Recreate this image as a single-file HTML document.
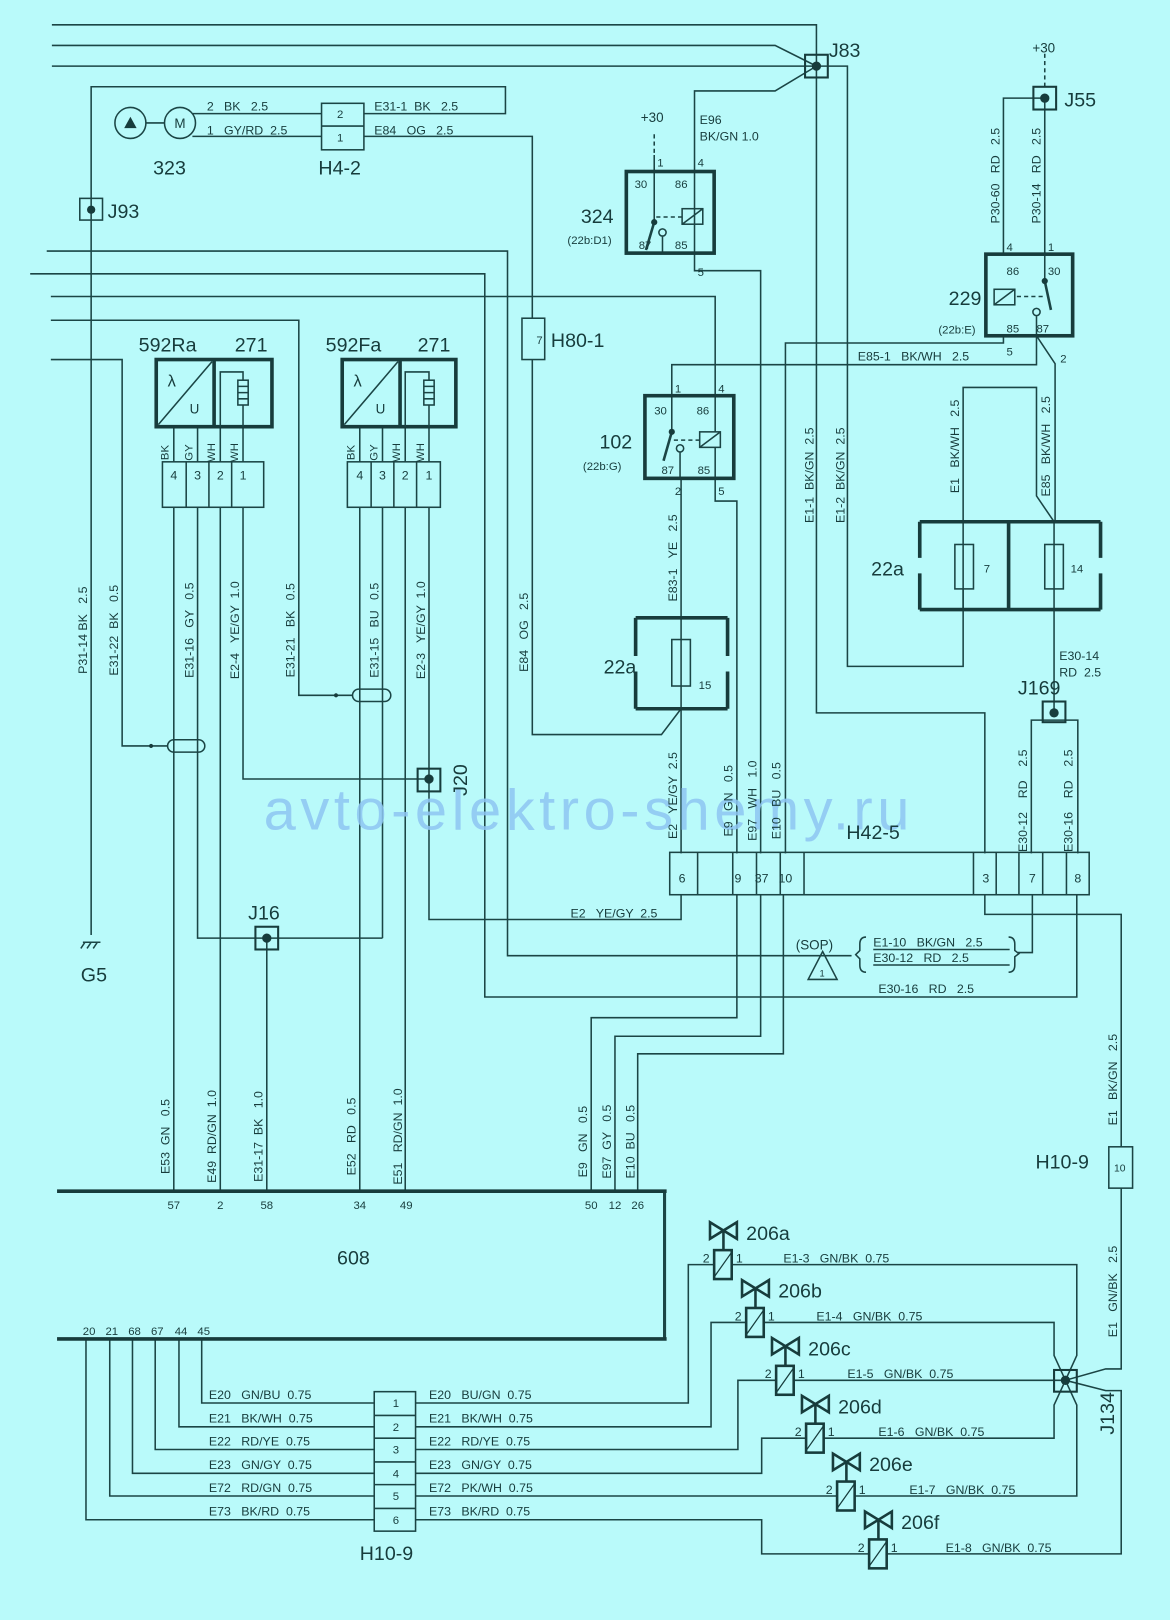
<!DOCTYPE html>
<html><head><meta charset="utf-8"><style>
html,body{margin:0;padding:0;background:#b9fafa;}
svg{display:block;}
text{font-family:"Liberation Sans",sans-serif;fill:#173c3c;white-space:pre;}
</style></head><body>
<svg width="1170" height="1620" viewBox="0 0 1132 1568" xmlns="http://www.w3.org/2000/svg" xml:space="preserve">
<rect width="1132" height="1568" fill="#b9fafa"/>
<g fill="none" stroke="#1b4545" stroke-width="1.5">
<path d="M50 24H790V690H953V826"/>
<path d="M50 44H750L790 64"/>
<path d="M50 64H790"/>
<path d="M790 64L750 88H672V166"/>
<path d="M790 64H820V645H932V570"/>
<circle cx="126" cy="119" r="15"/><circle cx="174" cy="119" r="15"/>
<path d="M141 119H159"/>
<path d="M186 110H311M186 132H311"/>
<rect x="311" y="100" width="41" height="45"/><path d="M311 122H352"/>
<path d="M352 110H489V84H88V905"/>
<path d="M352 132H515V308M515 348V711H640L659 686"/>
<rect x="505" y="308" width="22" height="40"/>
<rect x="77" y="192" width="22" height="21"/>
<path d="M45 243H491V925H824"/>
<path d="M29 265H469V965H1042V866"/>
<path d="M49 287H692V383"/>
<path d="M49 310H289V673H325"/>
<path d="M49 348H118V722H146"/>
<rect x="341" y="667" width="37" height="12" rx="6"/>
<rect x="162" y="716" width="36" height="12" rx="6"/>
<path d="M325 673H341M146 722H162"/>
<path d="M80 912H97M82 912L78 918M88 912L84 918M94 912L90 918"/>
<path d="M168 413V447M191 413V447M213 413V447M235 413V447"/>
<path d="M168 491V1153M191 491V908H370M213 491V1153M235 491V754H415"/>
<path d="M258 908V1153"/>
<path d="M348 413V447M370 413V447M392 413V447M415 413V447"/>
<path d="M348 491V1153M370 491V908M392 491V1153M415 491V890H659V866"/>
<rect x="157" y="447" width="98" height="44"/>
<path d="M180 447V491M202 447V491M224 447V491"/>
<rect x="336" y="447" width="90" height="44"/>
<path d="M359 447V491M381 447V491M403 447V491"/>
<path d="M633 130V150" stroke-dasharray="4,3"/>
<path d="M633 150V215M672 166V262H736V826"/>
<path d="M641 229V245"/>
<circle cx="641" cy="225" r="3.5"/>
<path d="M633 215L625 242" stroke-width="2.5"/>
<path d="M635 210H660" stroke-dasharray="4,3"/>
<rect x="660" y="202" width="20" height="15"/><path d="M660 217L680 202"/>
<path d="M1011 52V86" stroke-dasharray="4,3"/>
<path d="M1011 95H971V246M1011 95V272"/>
<path d="M1011 272L1017 300" stroke-width="2.5"/>
<circle cx="1003" cy="302" r="3.5"/><path d="M1003 306V325"/>
<path d="M984 287H1009" stroke-dasharray="4,3"/>
<rect x="962" y="280" width="20" height="15"/><path d="M962 295L982 280"/>
<path d="M971 325V332H760V826"/>
<path d="M1003 325V353H650V383"/>
<path d="M1003 325L1021 352V505"/>
<path d="M932 505V375H1003V480L1020 505"/>
<path d="M650 383V418"/>
<path d="M650 418L642 446" stroke-width="2.5"/>
<circle cx="658" cy="434" r="3.5"/><path d="M658 438V463"/>
<path d="M652 426H677" stroke-dasharray="4,3"/>
<rect x="677" y="418" width="20" height="15"/><path d="M677 433L697 418"/>
<path d="M692 383V418M692 433V485H713V826"/>
<path d="M659 463V598M659 686V826"/>
<rect x="924" y="527" width="18" height="43"/>
<rect x="1011" y="527" width="18" height="43"/>
<path d="M932 505V590M1020 505V690"/>
<rect x="650" y="619" width="18" height="45"/>
<path d="M659 598V686"/>
<path d="M998 826V697H1043V826"/>
<rect x="648" y="825" width="406" height="41"/>
<path d="M675 825V866M709 825V866M732 825V866M755 825V866M778 825V866M942 825V866M964 825V866M986 825V866M1009 825V866M1032 825V866"/>
<path d="M953 866V885H1085V1110"/>
<path d="M999 866V922H985"/>
<path d="M713 866V985H572V1153"/>
<path d="M736 866V1003H595V1153"/>
<path d="M758 866V1020H617V1153"/>
<path d="M845 919H977M845 934H977"/>
<path d="M838 907Q832 907 832 914V920L828 924L832 928V934Q832 941 838 941"/>
<path d="M976 907Q982 907 982 914V920L986 923L982 926V934Q982 941 976 941"/>
<path d="M796 921L810 948H782Z"/>
<path d="M643 1153V1296" stroke-width="3"/>
<path d="M83 1296V1471H362M106 1296V1448H362M128 1296V1426H362M150 1296V1403H362M173 1296V1381H362M195 1296V1358H362"/>
<rect x="362" y="1347" width="40" height="135"/>
<path d="M362 1370H402M362 1392H402M362 1415H402M362 1437H402M362 1460H402"/>
<path d="M402 1358H666V1224H691"/>
<path d="M402 1381H688V1280H722"/>
<path d="M402 1403H714V1336H751"/>
<path d="M402 1426H737V1392H780"/>
<path d="M402 1448H810"/>
<path d="M402 1471H737V1504H841"/>
<path d="M708 1224H1042V1312L1031 1336L1020 1312V1280H739"/>
<path d="M768 1336H1031"/>
<path d="M797 1392H1020V1360L1031 1336L1042 1360V1448H827"/>
<path d="M858 1504H1085V1346H1070L1031 1336L1070 1325H1085V1150"/>
<rect x="1073" y="1110" width="23" height="40"/>
</g>
<g fill="none" stroke="#173c3c" stroke-width="3.5">
<rect x="606" y="166" width="85" height="79"/>
<rect x="954" y="246" width="84" height="79"/>
<rect x="624" y="383" width="86" height="80"/>
<rect x="151" y="348" width="112" height="65"/><path d="M207 348V413"/>
<rect x="331" y="348" width="110" height="65"/><path d="M387 348V413"/>
<path d="M890 505H1065M890 590H1065M976 505V590M890 505V540M890 555V590M1065 505V540M1065 555V590"/>
<path d="M615 598H704M615 686H704M615 598V635M615 650V686M704 598V635M704 650V686"/>
<path d="M55 1153H645M55 1296H645"/>
</g>
<g fill="none" stroke="#1b4545" stroke-width="1.5">
<path d="M153 411L205 350M333 411L385 350"/>
<path d="M213 413V360H235V413M392 413V360H415V413"/>
<rect x="230" y="368" width="10" height="24" fill="#b9fafa"/><path d="M230 374H240M230 380H240M230 386H240"/>
<rect x="410" y="368" width="10" height="24" fill="#b9fafa"/><path d="M410 374H420M410 380H420M410 386H420"/>
</g>
<g fill="none" stroke="#173c3c" stroke-width="2">
<rect x="779" y="53" width="22" height="22"/>
<rect x="1000" y="84" width="22" height="22"/>
<rect x="1009" y="679" width="22" height="20"/>
<rect x="404" y="744" width="22" height="22"/>
<rect x="247" y="897" width="22" height="22"/>
<rect x="1020" y="1326" width="22" height="21"/>
</g>
<g fill="#173c3c">
<circle cx="790" cy="64" r="4.5"/><circle cx="1011" cy="95" r="4.5"/><circle cx="1020" cy="690" r="4.5"/>
<circle cx="415" cy="754" r="4.5"/><circle cx="258" cy="908" r="4.5"/><circle cx="1031" cy="1336" r="4.5"/>
<circle cx="88" cy="203" r="4"/><circle cx="146" cy="722" r="2"/><circle cx="325" cy="673" r="2"/>
<circle cx="633" cy="215" r="3"/><circle cx="1011" cy="272" r="3"/><circle cx="650" cy="418" r="3"/>
<path d="M120 124L126 113L132 124Z"/>
</g>
<g fill="none" stroke="#173c3c" stroke-width="2.5">
<path d="M687 1183L713 1199V1183L687 1199Z"/><path d="M700 1191V1210"/><rect x="691" y="1210" width="17" height="28"/><path d="M691 1236L708 1212" stroke-width="1.2"/>
<path d="M718 1239L744 1255V1239L718 1255Z"/><path d="M731 1247V1266"/><rect x="722" y="1266" width="17" height="28"/><path d="M722 1292L739 1268" stroke-width="1.2"/>
<path d="M747 1295L773 1311V1295L747 1311Z"/><path d="M760 1303V1322"/><rect x="751" y="1322" width="17" height="28"/><path d="M751 1348L768 1324" stroke-width="1.2"/>
<path d="M776 1351L802 1367V1351L776 1367Z"/><path d="M789 1359V1378"/><rect x="780" y="1378" width="17" height="28"/><path d="M780 1404L797 1380" stroke-width="1.2"/>
<path d="M806 1407L832 1423V1407L806 1423Z"/><path d="M819 1415V1434"/><rect x="810" y="1434" width="17" height="28"/><path d="M810 1460L827 1436" stroke-width="1.2"/>
<path d="M837 1463L863 1479V1463L837 1479Z"/><path d="M850 1471V1490"/><rect x="841" y="1490" width="17" height="28"/><path d="M841 1516L858 1492" stroke-width="1.2"/>
</g>
<text x="255" y="803" font-size="56" style="fill:#8ec6f2" opacity="0.85" textLength="625">avto-elektro-shemy.ru</text>
<g font-size="12">
<text x="200" y="107">2   BK   2.5</text>
<text x="200" y="130">1   GY/RD  2.5</text>
<text x="362" y="107">E31-1  BK   2.5</text>
<text x="362" y="130">E84   OG   2.5</text>
<text x="326" y="114" font-size="11">2</text><text x="326" y="137" font-size="11">1</text>
<text x="519" y="333" font-size="11">7</text>
<text x="1078" y="1134" font-size="10">10</text>
<text x="620" y="118" font-size="13">+30</text>
<text x="999" y="51" font-size="13">+30</text>
<text x="677" y="120">E96</text>
<text x="677" y="136">BK/GN 1.0</text>
<text x="636" y="161" font-size="11">1</text><text x="675" y="161" font-size="11">4</text><text x="675" y="267" font-size="11">5</text>
<text x="614" y="182" font-size="11">30</text><text x="653" y="182" font-size="11">86</text>
<text x="618" y="241" font-size="11">87</text><text x="653" y="241" font-size="11">85</text>
<text x="974" y="243" font-size="11">4</text><text x="1014" y="243" font-size="11">1</text>
<text x="974" y="266" font-size="11">86</text><text x="1014" y="266" font-size="11">30</text>
<text x="974" y="322" font-size="11">85</text><text x="1003" y="322" font-size="11">87</text>
<text x="974" y="344" font-size="11">5</text><text x="1026" y="351" font-size="11">2</text>
<text x="830" y="349">E85-1   BK/WH   2.5</text>
<text x="653" y="380" font-size="11">1</text><text x="695" y="380" font-size="11">4</text>
<text x="633" y="401" font-size="11">30</text><text x="674" y="401" font-size="11">86</text>
<text x="640" y="459" font-size="11">87</text><text x="675" y="459" font-size="11">85</text>
<text x="653" y="479" font-size="11">2</text><text x="695" y="479" font-size="11">5</text>
<text x="952" y="554" font-size="11">7</text><text x="1036" y="554" font-size="11">14</text>
<text x="676" y="667" font-size="11">15</text>
<text x="1025" y="639">E30-14</text>
<text x="1025" y="655">RD  2.5</text>
<text x="845" y="916">E1-10   BK/GN   2.5</text>
<text x="845" y="931">E30-12   RD   2.5</text>
<text x="850" y="961">E30-16   RD   2.5</text>
<text x="552" y="888">E2   YE/GY  2.5</text>
<text x="793" y="945" font-size="9">1</text>
<g text-anchor="middle">
<text x="660" y="854">6</text>
<text x="714" y="854">9</text>
<text x="737" y="854">37</text>
<text x="760" y="854">10</text>
<text x="954" y="854">3</text>
<text x="999" y="854">7</text>
<text x="1043" y="854">8</text>
<text x="168" y="464">4</text><text x="191" y="464">3</text><text x="213" y="464">2</text><text x="235" y="464">1</text>
<text x="348" y="464">4</text><text x="370" y="464">3</text><text x="392" y="464">2</text><text x="415" y="464">1</text>
<text x="168" y="1170" font-size="11">57</text><text x="213" y="1170" font-size="11">2</text><text x="258" y="1170" font-size="11">58</text>
<text x="348" y="1170" font-size="11">34</text><text x="393" y="1170" font-size="11">49</text>
<text x="572" y="1170" font-size="11">50</text><text x="595" y="1170" font-size="11">12</text><text x="617" y="1170" font-size="11">26</text>
<text x="86" y="1292" font-size="11">20</text><text x="108" y="1292" font-size="11">21</text><text x="130" y="1292" font-size="11">68</text>
<text x="152" y="1292" font-size="11">67</text><text x="175" y="1292" font-size="11">44</text><text x="197" y="1292" font-size="11">45</text>
<text x="383" y="1362" font-size="11">1</text><text x="383" y="1385" font-size="11">2</text><text x="383" y="1407" font-size="11">3</text>
<text x="383" y="1430" font-size="11">4</text><text x="383" y="1452" font-size="11">5</text><text x="383" y="1475" font-size="11">6</text>
</g>
<text x="202" y="1354">E20   GN/BU  0.75</text>
<text x="202" y="1377">E21   BK/WH  0.75</text>
<text x="202" y="1399">E22   RD/YE  0.75</text>
<text x="202" y="1422">E23   GN/GY  0.75</text>
<text x="202" y="1444">E72   RD/GN  0.75</text>
<text x="202" y="1467">E73   BK/RD  0.75</text>
<text x="415" y="1354">E20   BU/GN  0.75</text>
<text x="415" y="1377">E21   BK/WH  0.75</text>
<text x="415" y="1399">E22   RD/YE  0.75</text>
<text x="415" y="1422">E23   GN/GY  0.75</text>
<text x="415" y="1444">E72   PK/WH  0.75</text>
<text x="415" y="1467">E73   BK/RD  0.75</text>
<text x="680" y="1222">2</text><text x="712" y="1222">1</text><text x="758" y="1222">E1-3   GN/BK  0.75</text>
<text x="711" y="1278">2</text><text x="743" y="1278">1</text><text x="790" y="1278">E1-4   GN/BK  0.75</text>
<text x="740" y="1334">2</text><text x="772" y="1334">1</text><text x="820" y="1334">E1-5   GN/BK  0.75</text>
<text x="769" y="1390">2</text><text x="801" y="1390">1</text><text x="850" y="1390">E1-6   GN/BK  0.75</text>
<text x="799" y="1446">2</text><text x="831" y="1446">1</text><text x="880" y="1446">E1-7   GN/BK  0.75</text>
<text x="830" y="1502">2</text><text x="862" y="1502">1</text><text x="915" y="1502">E1-8   GN/BK  0.75</text>
</g>
<g font-size="12" text-anchor="middle">
<text transform="translate(84,610) rotate(-90)">P31-14 BK   2.5</text>
<text transform="translate(114,610) rotate(-90)">E31-22  BK   0.5</text>
<text transform="translate(187,610) rotate(-90)">E31-16   GY   0.5</text>
<text transform="translate(231,610) rotate(-90)">E2-4   YE/GY  1.0</text>
<text transform="translate(285,610) rotate(-90)">E31-21   BK   0.5</text>
<text transform="translate(366,610) rotate(-90)">E31-15   BU   0.5</text>
<text transform="translate(411,610) rotate(-90)">E2-3   YE/GY  1.0</text>
<text transform="translate(511,612) rotate(-90)">E84   OG   2.5</text>
<text transform="translate(655,540) rotate(-90)">E83-1   YE   2.5</text>
<text transform="translate(655,770) rotate(-90)">E2   YE/GY  2.5</text>
<text transform="translate(709,775) rotate(-90)">E9   GN   0.5</text>
<text transform="translate(732,775) rotate(-90)">E97   WH   1.0</text>
<text transform="translate(755,775) rotate(-90)">E10   BU   0.5</text>
<text transform="translate(994,775) rotate(-90)">E30-12    RD    2.5</text>
<text transform="translate(1038,775) rotate(-90)">E30-16    RD    2.5</text>
<text transform="translate(787,460) rotate(-90)">E1-1  BK/GN  2.5</text>
<text transform="translate(817,460) rotate(-90)">E1-2  BK/GN  2.5</text>
<text transform="translate(967,170) rotate(-90)">P30-60   RD   2.5</text>
<text transform="translate(1007,170) rotate(-90)">P30-14   RD   2.5</text>
<text transform="translate(928,432) rotate(-90)">E1   BK/WH   2.5</text>
<text transform="translate(1016,432) rotate(-90)">E85   BK/WH   2.5</text>
<text transform="translate(164,1100) rotate(-90)">E53  GN   0.5</text>
<text transform="translate(209,1100) rotate(-90)">E49  RD/GN  1.0</text>
<text transform="translate(254,1100) rotate(-90)">E31-17  BK   1.0</text>
<text transform="translate(344,1100) rotate(-90)">E52   RD   0.5</text>
<text transform="translate(389,1100) rotate(-90)">E51   RD/GN  1.0</text>
<text transform="translate(568,1105) rotate(-90)">E9   GN   0.5</text>
<text transform="translate(591,1105) rotate(-90)">E97  GY   0.5</text>
<text transform="translate(614,1105) rotate(-90)">E10  BU   0.5</text>
<text transform="translate(1081,1045) rotate(-90)">E1   BK/GN   2.5</text>
<text transform="translate(1081,1250) rotate(-90)">E1   GN/BK   2.5</text>
<text transform="translate(163,438) rotate(-90)" font-size="11">BK</text>
<text transform="translate(186,438) rotate(-90)" font-size="11">GY</text>
<text transform="translate(208,438) rotate(-90)" font-size="11">WH</text>
<text transform="translate(230,438) rotate(-90)" font-size="11">WH</text>
<text transform="translate(343,438) rotate(-90)" font-size="11">BK</text>
<text transform="translate(365,438) rotate(-90)" font-size="11">GY</text>
<text transform="translate(387,438) rotate(-90)" font-size="11">WH</text>
<text transform="translate(410,438) rotate(-90)" font-size="11">WH</text>
</g>
<g font-size="19">
<text x="802" y="55">J83</text>
<text x="1030" y="103">J55</text>
<text x="104" y="211">J93</text>
<text x="148" y="169">323</text>
<text x="308" y="169">H4-2</text>
<text x="562" y="216">324</text>
<text x="918" y="295">229</text>
<text x="533" y="336">H80-1</text>
<text x="134" y="340">592Ra</text><text x="227" y="340">271</text>
<text x="315" y="340">592Fa</text><text x="404" y="340">271</text>
<text x="580" y="434">102</text>
<text x="843" y="557">22a</text>
<text x="584" y="652">22a</text>
<text x="985" y="672">J169</text>
<text x="819" y="812">H42-5</text>
<text x="240" y="890">J16</text>
<text x="78" y="950">G5</text>
<text x="326" y="1224">608</text>
<text x="1002" y="1131">H10-9</text>
<text x="348" y="1510">H10-9</text>
<text x="722" y="1200">206a</text>
<text x="753" y="1256">206b</text>
<text x="782" y="1312">206c</text>
<text x="811" y="1368">206d</text>
<text x="841" y="1424">206e</text>
<text x="872" y="1480">206f</text>
<text transform="translate(452,755) rotate(-90)" text-anchor="middle">J20</text>
<text transform="translate(1078,1368) rotate(-90)" text-anchor="middle">J134</text>
</g>
<g font-size="11">
<text x="549" y="236">(22b:D1)</text>
<text x="908" y="323">(22b:E)</text>
<text x="564" y="455">(22b:G)</text>
<text x="770" y="919" font-size="13">(SOP)</text>
</g>
<g font-size="13" text-anchor="middle">
<text x="174" y="124">M</text>
<text x="166" y="374" font-size="16">λ</text><text x="188" y="400">U</text>
<text x="346" y="374" font-size="16">λ</text><text x="368" y="400">U</text>
</g>
</svg>
</body></html>
